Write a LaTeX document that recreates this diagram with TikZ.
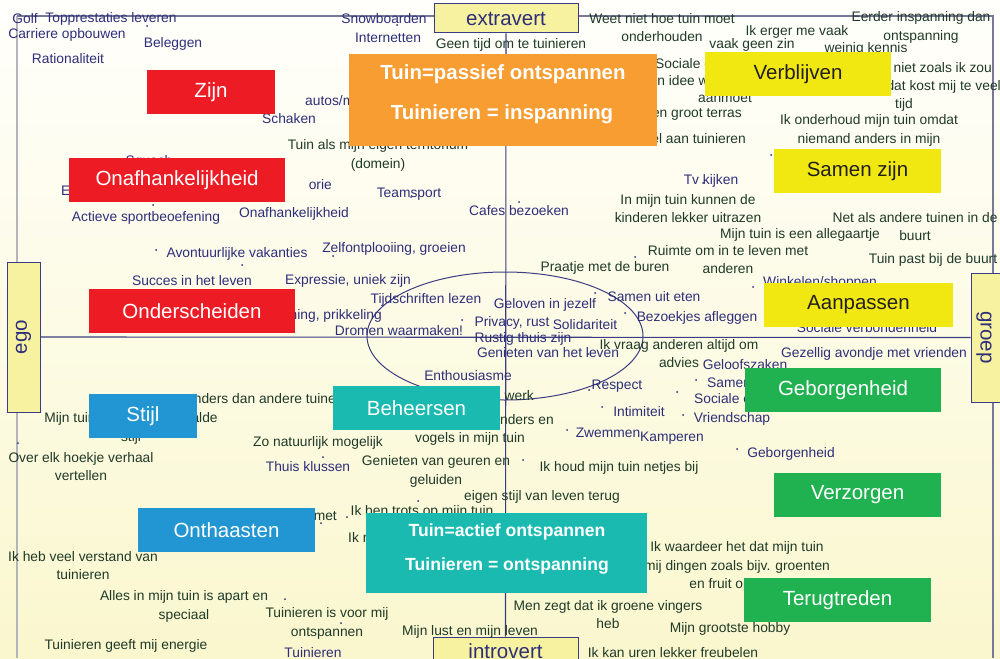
\documentclass[tikz,border=0pt]{standalone}
\usepackage{fontspec}
\setmainfont{Liberation Sans}
\definecolor{navytxt}{RGB}{46,46,122}
\definecolor{greentxt}{RGB}{32,58,40}
\definecolor{boxred}{RGB}{237,28,36}
\definecolor{boxorange}{RGB}{247,157,50}
\definecolor{boxyellow}{RGB}{240,232,16}
\definecolor{boxgreen}{RGB}{32,177,80}
\definecolor{boxblue}{RGB}{33,150,210}
\definecolor{boxteal}{RGB}{26,186,176}
\definecolor{axfill}{RGB}{246,242,160}
\definecolor{axline}{RGB}{60,60,130}
\definecolor{frameline}{RGB}{120,120,155}
\definecolor{framegray}{RGB}{180,180,188}
\definecolor{bgtop}{RGB}{255,255,252}
\definecolor{bgbot}{RGB}{250,247,206}
\definecolor{darktxt}{RGB}{35,31,32}
\newcommand\txtfnt{\fontsize{13.8}{18.5}\selectfont}
\newcommand\labfnt{\fontsize{20.5}{24}\selectfont}
\newcommand\titfnt{\bfseries\fontsize{20.4}{24}\selectfont}
\newcommand\titsfnt{\bfseries\fontsize{17.6}{21}\selectfont}
\begin{document}
\begin{tikzpicture}[x=1pt,y=-1pt,
  nv/.style={text=navytxt, font=\txtfnt, inner sep=0pt, align=center, yshift=-1.5pt},
  gt/.style={text=greentxt, font=\txtfnt, inner sep=0pt, align=center, yshift=-1.5pt},
  cbox/.style={inner sep=0pt, font=\labfnt, text=white, minimum height=44pt},
  ybox/.style={cbox, fill=boxyellow, text=darktxt},
  axlab/.style={draw=axline, fill=axfill, line width=1pt, font=\labfnt, text=navytxt, inner sep=0pt},
  axtxt/.style={font=\labfnt, text=navytxt, inner sep=0pt},
  axis/.style={draw=axline, line width=1.1pt},
  titl/.style={font=\titfnt, text=white, inner sep=0pt, yshift=-1.5pt},
  titls/.style={font=\titsfnt, text=white, inner sep=0pt, yshift=-1.5pt},
  dot/.style={fill=navytxt}
]
\useasboundingbox (0,0) rectangle (1000,658);
\shade[top color=bgtop, bottom color=bgbot] (0,0) rectangle (1000,658);

% frame
\draw[framegray, line width=1.3pt] (17,16) -- (17,658);
\draw[frameline, line width=1.3pt] (17,16) -- (993,16) -- (993,658);

% axis labels
\node[axlab, minimum width=144pt, minimum height=29pt] (extra) at (506,18.5) {extravert};
\node[axlab, minimum width=145pt, minimum height=29pt] (intro) at (505.5,651.5) {introvert};
\node[axlab, minimum width=33pt, minimum height=150pt] (ego) at (23.5,337) {};
\node[axtxt, rotate=90] (egot) at (ego.center) {ego};
\node[axlab, minimum width=33pt, minimum height=129pt] (groep) at (987.5,337.5) {};
\node[axtxt, rotate=-90] (groept) at (984,337.5) {groep};

% axes
\draw[axis] (extra.south) -- (intro.north);
\draw[axis] (ego.east) -- (groep.west);
\draw[axline, line width=1pt] (505,336) ellipse [x radius=138, y radius=64];

% dots
\foreach \p in {(147,26),(397,25),(115,160),(153,205),(411,197),(519,202),(703,183),(771,155),
  (156,250),(242,265),(333,256),(462,320),(595,293),(625,313),(635,257),(588,354),(589,390),
  (602,407),(567,430),(696,380),(677,392),(683,415),(737,449),(753,287),(18,443),(323,457),
  (413,463),(523,460),(418,501),(321,523),(347,517),(285,599),(341,623),(679,345)}
  \fill[dot] \p circle (1);

% navy texts
\node[nv] (golf) at (25,17) {Golf};
\node[nv] (topp) at (111,17) {Topprestaties leveren};
\node[nv] (carr) at (67,33) {Carriere opbouwen};
\node[nv] (bel) at (173,42) {Beleggen};
\node[nv] (rat) at (68,57) {Rationaliteit};
\node[nv] (snow) at (384,17) {Snowboarden};
\node[nv] (inet) at (388,36) {Internetten};
\node[nv, anchor=west] (autos) at (305,99) {autos/motoren};
\node[nv] (schak) at (289,117) {Schaken};
\node[nv] (squash) at (149,160) {Squash};
\node[nv, anchor=west] (eee) at (61,189) {E};
\node[nv] (act) at (146,216) {Actieve sportbeoefening};
\node[nv] (onafs) at (294,212) {Onafhankelijkheid};
\node[nv, anchor=east] (orie) at (332,183) {orie};
\node[nv] (team) at (409,193) {Teamsport};
\node[nv] (cafes) at (519,209) {Cafes bezoeken};
\node[nv] (tv) at (711,179) {Tv kijken};
\node[nv] (avon) at (237,252) {Avontuurlijke vakanties};
\node[nv] (succ) at (192,279) {Succes in het leven};
\node[nv] (zelf) at (394,247) {Zelfontplooiing, groeien};
\node[nv] (expr) at (348,279) {Expressie, uniek zijn};
\node[nv] (tijds) at (426,298) {Tijdschriften lezen};
\node[nv, anchor=east] (span) at (382,314) {Spanning, prikkeling};
\node[nv] (drom) at (399,329) {Dromen waarmaken!};
\node[nv] (gelo) at (545,303) {Geloven in jezelf};
\node[nv] (priv) at (512,321) {Privacy, rust};
\node[nv] (soli) at (585,323) {Solidariteit};
\node[nv] (rust) at (523,337) {Rustig thuis zijn};
\node[nv] (geni) at (548,351) {Genieten van het leven};
\node[nv] (enth) at (468,374) {Enthousiasme};
\node[nv] (same) at (654,295) {Samen uit eten};
\node[nv] (bezo) at (697,316) {Bezoekjes afleggen};
\node[nv] (wink) at (820,281) {Winkelen/shoppen};
\node[nv] (socv) at (867,326) {Sociale verbondenheid};
\node[nv] (gez) at (874,352) {Gezellig avondje met vrienden};
\node[nv] (gloof) at (745,363) {Geloofszaken};
\node[nv] (resp) at (617,385) {Respect};
\node[nv] (intim) at (639,410) {Intimiteit};
\node[nv] (zwem) at (608,431) {Zwemmen};
\node[nv] (kamp) at (672,437) {Kamperen};
\node[nv, anchor=west] (samx) at (707,382) {Samenzijn};
\node[nv, anchor=west] (socx) at (694,397) {Sociale contacten};
\node[nv] (vriend) at (732,417) {Vriendschap};
\node[nv] (gebs) at (791,452) {Geborgenheid};
\node[nv] (thuis) at (308,465) {Thuis klussen};
\node[nv] (tuins) at (313,651) {Tuinieren};

% green texts
\node[gt] (geen) at (511,43) {Geen tijd om te tuinieren};
\node[gt] (terr) at (378,154) {Tuin als mijn eigen territorium\\(domein)};
\node[gt] (weet) at (662,26) {Weet niet hoe tuin moet\\onderhouden};
\node[gt] (erger) at (797,30) {Ik erger me vaak};
\node[gt] (vaak) at (752,43) {vaak geen zin};
\node[gt] (eerder) at (921,26) {Eerder inspanning dan\\ontspanning};
\node[gt] (kennis) at (866,47) {weinig kennis};
\node[gt, anchor=east] (zoals1) at (992,67) {Mijn tuin is niet zoals ik zou};
\node[gt, anchor=east] (zoals2) at (1001,85) {willen, dat kost mij te veel};
\node[gt] (zoals3) at (904,103) {tijd};
\node[gt, anchor=west] (socc) at (655,62) {Sociale controle};
\node[gt, anchor=west] (idee) at (631,79) {Geen idee wat ik};
\node[gt, anchor=west] (aanm) at (698,97) {aanmoet};
\node[gt, anchor=east] (terras) at (742,113) {Een groot terras};
\node[gt, anchor=east] (tuinier) at (746,137) {Ik heb veel aan tuinieren};
\node[gt] (onderh) at (869,129) {Ik onderhoud mijn tuin omdat\\niemand anders in mijn};
\node[gt] (kind) at (688,207) {In mijn tuin kunnen de\\kinderen lekker uitrazen};
\node[gt] (netals) at (915,225) {Net als andere tuinen in de\\buurt};
\node[gt] (alleg) at (800,233) {Mijn tuin is een allegaartje};
\node[gt] (past) at (933,258) {Tuin past bij de buurt};
\node[gt] (ruimte) at (728,258) {Ruimte om in te leven met\\anderen};
\node[gt] (praat) at (605,266) {Praatje met de buren};
\node[gt] (vraag) at (679,352) {Ik vraag anderen altijd om\\advies};
\node[gt, anchor=east] (werk) at (534,394) {Tuinieren is werk};
\node[gt, anchor=east] (vlind) at (554,419) {Ik geniet van vlinders en};
\node[gt] (vogels) at (470,437) {vogels in mijn tuin};
\node[gt, anchor=west] (anders) at (186,397) {anders dan andere tuinen};
\node[gt] (bepaald) at (131,427) {Mijn tuin heeft een bepaalde\\stijl};
\node[gt] (natuur) at (318,441) {Zo natuurlijk mogelijk};
\node[gt] (hoekje) at (81,465) {Over elk hoekje verhaal\\vertellen};
\node[gt] (geuren) at (436,470) {Genieten van geuren en\\geluiden};
\node[gt] (netjes) at (619,466) {Ik houd mijn tuin netjes bij};
\node[gt] (eigen) at (542,495) {eigen stijl van leven terug};
\node[gt] (trots) at (422,510) {Ik ben trots op mijn tuin};
\node[gt, anchor=east] (met) at (337,515) {Ik ben bezig met};
\node[gt, anchor=west] (ikr) at (348,536) {Ik rust uit};
\node[gt] (verst) at (83,564) {Ik heb veel verstand van\\tuinieren};
\node[gt] (apart) at (184,605) {Alles in mijn tuin is apart en\\speciaal};
\node[gt] (energie) at (126,644) {Tuinieren geeft mij energie};
\node[gt] (voormij) at (327,622) {Tuinieren is voor mij\\ontspannen};
\node[gt] (lust) at (470,630) {Mijn lust en mijn leven};
\node[gt] (vingers) at (608,613) {Men zegt dat ik groene vingers\\heb};
\node[gt] (hobby) at (730,627) {Mijn grootste hobby};
\node[gt] (freub) at (673,651) {Ik kan uren lekker freubelen};
\node[gt] (waard) at (737,565) {Ik waardeer het dat mijn tuin\\mij dingen zoals bijv. groenten\\en fruit oplevert};

% coloured boxes
\node[cbox, fill=boxred, minimum width=128pt] (zijn) at (211,92) {Zijn};
\node[cbox, fill=boxred, minimum width=216pt] (onaf) at (177,180) {Onafhankelijkheid};
\node[cbox, fill=boxred, minimum width=206pt] (onder) at (192,311) {Onderscheiden};
\node[fill=boxorange, inner sep=0pt, minimum width=308pt, minimum height=92pt] (orbox) at (503,100) {};
\node[titl] (or1) at (503,73) {Tuin=passief ontspannen};
\node[titl] (or2) at (502,113) {Tuinieren = inspanning};
\node[ybox, minimum width=186pt] (verbl) at (798,74) {Verblijven};
\node[ybox, minimum width=167pt] (samen) at (857.5,171) {Samen zijn};
\node[ybox, minimum width=189pt] (aanp) at (858.5,305) {Aanpassen};
\node[cbox, fill=boxgreen, minimum width=196pt] (gebo) at (843,390) {Geborgenheid};
\node[cbox, fill=boxgreen, minimum width=167pt] (verz) at (857.5,495) {Verzorgen};
\node[cbox, fill=boxgreen, minimum width=187pt] (terug) at (837.5,600) {Terugtreden};
\node[cbox, fill=boxblue, minimum width=108pt] (stijl) at (143,416) {Stijl};
\node[cbox, fill=boxteal, minimum width=167pt] (beh) at (416.5,408) {Beheersen};
\node[cbox, fill=boxblue, minimum width=177pt] (onth) at (226.5,530) {Onthaasten};
\node[fill=boxteal, inner sep=0pt, minimum width=281pt, minimum height=80pt] (tlbox) at (506.5,553) {};
\node[titls] (tl1) at (507,530) {Tuin=actief ontspannen};
\node[titls] (tl2) at (507,564) {Tuinieren = ontspanning};
\end{tikzpicture}
\end{document}
